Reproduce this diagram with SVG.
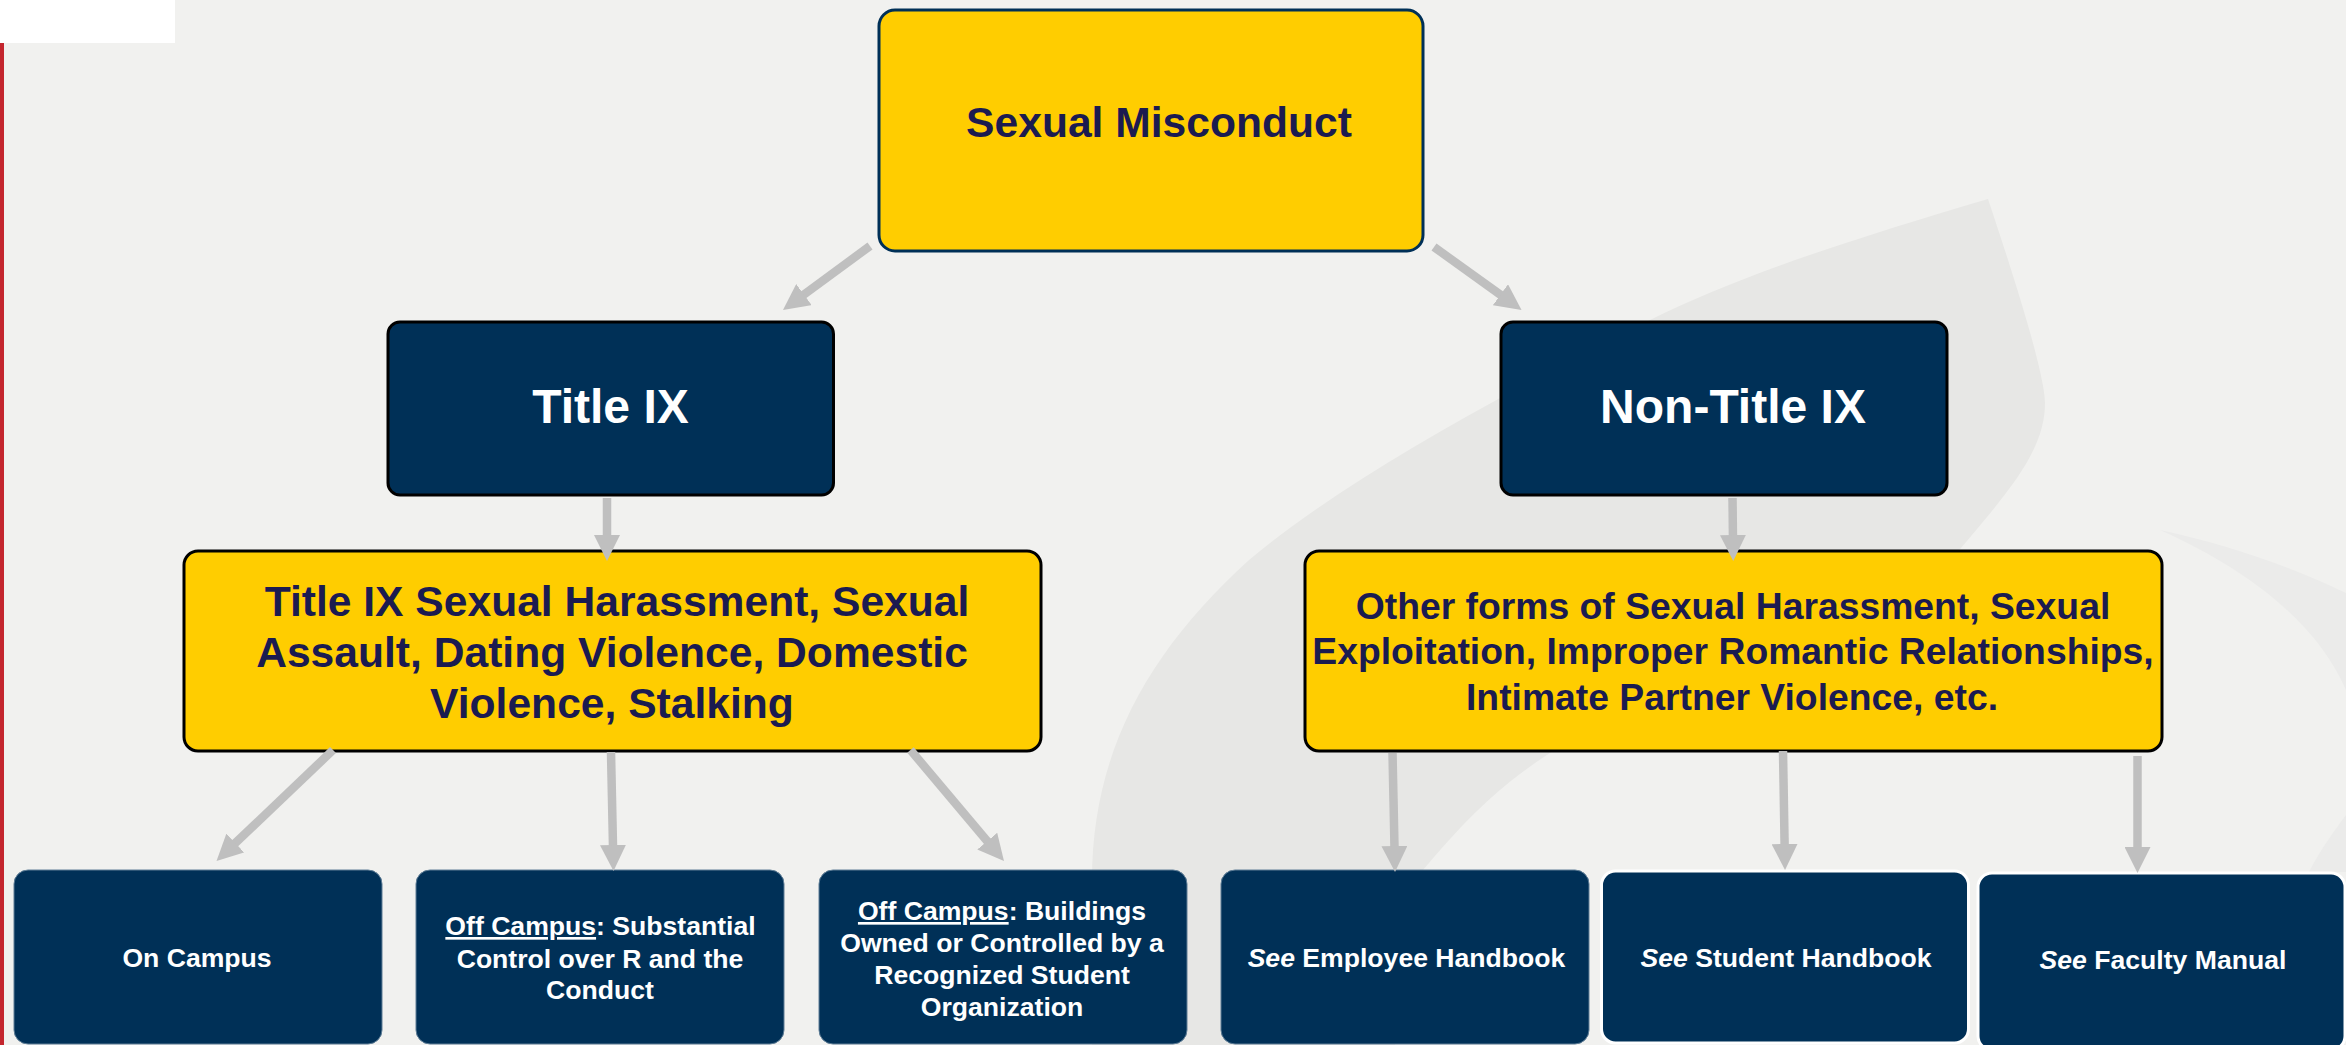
<svg xmlns="http://www.w3.org/2000/svg" width="2346" height="1045" viewBox="0 0 2346 1045">
<style>
text{font-family:"Liberation Sans",Arial,sans-serif;font-weight:700;text-anchor:middle}
.y{fill:#FFCD00;stroke:#000;stroke-width:3}
.n{fill:#003057;stroke:#000;stroke-width:3}
.b{fill:#003057;stroke:#5E7D96;stroke-width:1}
.w{fill:#003057;stroke:#fff;stroke-width:3}
.dk{fill:#1B1B50}
.lt{fill:#fff}
.s48{font-size:48px}.s42{font-size:42.6px}.s37{font-size:37.3px}.s26{font-size:26.6px}
.c line{stroke:#BFBFBF;stroke-width:8.5;marker-end:url(#ah)}
.u{text-decoration:underline}
.i{font-style:italic}
</style>
<defs>
<marker id="ah" markerUnits="userSpaceOnUse" markerWidth="26" markerHeight="26" refX="6" refY="13" orient="auto">
<path d="M0,0L26,13L0,26Z" fill="#BFBFBF"/>
</marker>
</defs>
<g id="background">
<rect width="2346" height="1045" fill="#F1F1EF"/>
<path fill="#E7E7E5" d="M1988,199C1850,240 1740,275 1648,321C1490,400 1345,480 1249,560C1150,650 1092,750 1092,880L1092,1045L1395,1045C1400,960 1412,890 1423,870C1465,820 1500,785 1550,753C1690,665 1860,660 1961,548C2010,490 2045,450 2045,403C2045,370 2005,250 1988,199Z"/>
<path fill="#EBEBEA" d="M2160,530C2230,545 2300,570 2346,593L2346,690C2320,630 2260,575 2160,530Z"/>
<path fill="#EBEBEA" d="M2309,872C2320,850 2335,830 2346,815L2346,872Z"/>
<rect x="0" y="43" width="4" height="1002" fill="#C4262E"/>
<rect x="0" y="0" width="175" height="43" fill="#fff"/>
</g>
<g id="node-sexual-misconduct">
<rect x="879" y="10" width="544" height="241" rx="16" fill="#FFCD00" stroke="#003057" stroke-width="3"/>
<text class="dk s42" x="1159" y="137">Sexual Misconduct</text>
</g>
<g id="node-title-ix">
<rect class="n" x="388" y="322" width="445.500" height="173" rx="12"/>
<text class="lt s48" x="610.500" y="423">Title IX</text>
</g>
<g id="node-non-title-ix">
<rect class="n" x="1501" y="322" width="446" height="173" rx="12"/>
<text class="lt s48" x="1733" y="423">Non-Title IX</text>
</g>
<g id="node-title-ix-forms">
<rect class="y" x="184" y="551" width="857" height="200" rx="14"/>
<text class="dk s42" x="617" y="616">Title IX Sexual Harassment, Sexual</text>
<text class="dk s42" x="612" y="667">Assault, Dating Violence, Domestic</text>
<text class="dk s42" x="612" y="718">Violence, Stalking</text>
</g>
<g id="node-other-forms">
<rect class="y" x="1305" y="551" width="857" height="200" rx="14"/>
<text class="dk s37" x="1733" y="619">Other forms of Sexual Harassment, Sexual</text>
<text class="dk s37" x="1733" y="664">Exploitation, Improper Romantic Relationships,</text>
<text class="dk s37" x="1732" y="710">Intimate Partner Violence, etc.</text>
</g>
<g id="node-on-campus">
<rect class="b" x="14" y="870" width="368" height="174" rx="14"/>
<text class="lt s26" x="197" y="967">On Campus</text>
</g>
<g id="node-off-campus-control">
<rect class="b" x="416" y="870" width="368" height="174" rx="14"/>
<text class="lt s26" x="600.500" y="935"><tspan class="u">Off Campus</tspan>: Substantial</text>
<text class="lt s26" x="600" y="968">Control over R and the</text>
<text class="lt s26" x="600" y="999">Conduct</text>
</g>
<g id="node-off-campus-buildings">
<rect class="b" x="819" y="870" width="368" height="174" rx="14"/>
<text class="lt s26" x="1002" y="920"><tspan class="u">Off Campus</tspan>: Buildings</text>
<text class="lt s26" x="1002" y="952">Owned or Controlled by a</text>
<text class="lt s26" x="1002" y="984">Recognized Student</text>
<text class="lt s26" x="1002" y="1016">Organization</text>
</g>
<g id="node-employee-handbook">
<rect class="b" x="1221" y="870" width="368" height="174" rx="14"/>
<text class="lt s26" x="1406.500" y="967"><tspan class="i">See</tspan> Employee Handbook</text>
</g>
<g id="node-student-handbook">
<rect class="w" x="1601.500" y="871" width="367" height="172" rx="14"/>
<text class="lt s26" x="1786" y="967"><tspan class="i">See</tspan> Student Handbook</text>
</g>
<g id="node-faculty-manual">
<rect class="w" x="1978" y="873" width="367" height="177" rx="14"/>
<text class="lt s26" x="2163" y="969"><tspan class="i">See</tspan> Faculty Manual</text>
</g>
<g id="connectors" class="c">
<line x1="870" y1="246" x2="799.1" y2="298.1"/>
<line x1="1434" y1="247" x2="1505.3" y2="298.3"/>
<line x1="607" y1="498" x2="607" y2="541"/>
<line x1="1732.5" y1="498" x2="1733" y2="541"/>
<line x1="333" y1="750" x2="231" y2="847.2"/>
<line x1="611" y1="752" x2="613.1" y2="851"/>
<line x1="910.5" y1="750" x2="991.1" y2="845.7"/>
<line x1="1392.5" y1="753" x2="1394.6" y2="852"/>
<line x1="1783" y1="751" x2="1784.7" y2="850"/>
<line x1="2137.5" y1="756" x2="2137.5" y2="853"/>
</g>
</svg>
